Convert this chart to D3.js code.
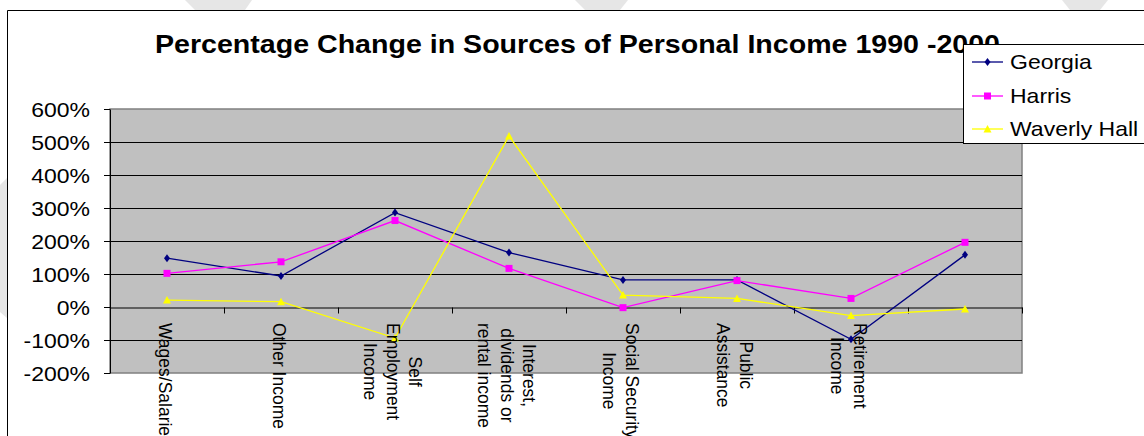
<!DOCTYPE html>
<html>
<head>
<meta charset="utf-8">
<script src="https://cdn.jsdelivr.net/npm/d3@7/dist/d3.min.js"></script>
<style>
  html, body { margin: 0; padding: 0; background: #fff; }
  svg { display: block; }
  text { font-family: "Liberation Sans", Arial, sans-serif; fill: #000; }
</style>
</head>
<body>
<svg id="chart" width="1144" height="436"></svg>
<script>
// Income sources (line breaks mark how each axis label wraps)
const categories = [
  "Wages/Salaries",
  "Other Income",
  "Self\nEmployment\nIncome",
  "Interest,\ndividends or\nrental income",
  "Social Security\nIncome",
  "Public\nAssistance",
  "Retirement\nIncome",
  ""
];

// Percentage change 1990-2000, in percent
const georgia = [148, 94, 286, 165, 82, 82, -98, 158];
const harris  = [102, 137, 262, 117, -2, 80, 26, 196];
const waverly = [21, 16, -94, 518, 36, 26, -26, -6];

const yTicks = [-200, -100, 0, 100, 200, 300, 400, 500, 600];
const titleText = "Percentage Change in Sources of Personal Income 1990 -2000";

const series = [
  { name: "Georgia",      values: georgia, color: "#000080", marker: "diamond" },
  { name: "Harris",       values: harris,  color: "#FF00FF", marker: "square" },
  { name: "Waverly Hall", values: waverly, color: "#FFFF00", marker: "triangle" }
];

const svg = d3.select("#chart");
const plot = { left: 110, right: 1022, top: 109, bottom: 373 };
const stretch = 1.15; // horizontal text stretch used throughout

// faint page decoration showing around the chart frame
const deco = [
  [[185, 0], [252, 0], [245, 10], [195, 10]],
  [[575, 0], [628, 0], [620, 10], [585, 10]],
  [[1062, 0], [1108, 0], [1100, 10], [1070, 10]],
  [[0, 185], [7, 178], [7, 318], [0, 312]]
];
svg.selectAll("polygon.deco").data(deco).join("polygon")
  .attr("class", "deco")
  .attr("points", d => d.map(p => p.join(",")).join(" "))
  .attr("fill", "#e6e6e6");

// chart frame
svg.append("path")
  .attr("d", "M7.5,436 V10.5 H1144")
  .attr("fill", "none").attr("stroke", "#000").attr("stroke-width", 1);

// title
svg.append("text")
  .attr("x", 155).attr("y", 53)
  .attr("font-size", 25).attr("font-weight", "bold")
  .attr("textLength", 845).attr("lengthAdjust", "spacingAndGlyphs")
  .text(titleText);

// scales
const xEdge = d3.scaleLinear().domain([0, categories.length]).range([plot.left, plot.right]);
const x = i => xEdge(i + 0.5);
const y = d3.scaleLinear().domain([-200, 600]).range([plot.bottom, plot.top]);

// plot area
svg.append("rect")
  .attr("x", plot.left).attr("y", plot.top)
  .attr("width", plot.right - plot.left).attr("height", plot.bottom - plot.top)
  .attr("fill", "#C0C0C0").attr("stroke", "#808080").attr("stroke-width", 1.5);

// gridlines
svg.append("g").selectAll("line")
  .data(yTicks.filter(t => t > -200 && t < 600 && t !== 0))
  .join("line")
  .attr("x1", plot.left).attr("x2", plot.right)
  .attr("y1", d => Math.round(y(d)) + 0.5).attr("y2", d => Math.round(y(d)) + 0.5)
  .attr("stroke", "#000").attr("stroke-width", 1);

// y axis
const yAxis = svg.append("g")
  .attr("transform", `translate(${plot.left},0)`)
  .call(d3.axisLeft(y).tickValues(yTicks).tickFormat(d => d + "%").tickSize(6).tickSizeOuter(0));
yAxis.select(".domain").attr("stroke", "#000");
yAxis.selectAll(".tick line").attr("stroke", "#000");
yAxis.selectAll(".tick text")
  .attr("font-family", "Liberation Sans, Arial, sans-serif")
  .attr("font-size", 20).attr("fill", "#000")
  .attr("x", -20 / stretch)
  .attr("dy", "0.35em")
  .attr("transform", `scale(${stretch},1)`);

// x axis along 0%
const xAxis = svg.append("g")
  .attr("transform", `translate(0,${Math.round(y(0)) + 0.5})`)
  .call(d3.axisBottom(xEdge).tickValues(d3.range(categories.length + 1)).tickFormat("").tickSize(6).tickSizeOuter(0));
xAxis.select(".domain").attr("stroke", "#000");
xAxis.selectAll(".tick line").attr("stroke", "#000");

// series lines and markers
const line = d3.line().x((d, i) => x(i)).y(d => y(d));

function markerPath(type, s) {
  const h = s / 2;
  if (type === "diamond") return `M0,${-h - 0.5}L${h - 0.5},0L0,${h + 0.5}L${-h + 0.5},0Z`;
  if (type === "square") return `M${-h},${-h}H${h}V${h}H${-h}Z`;
  return `M0,${-h - 0.5}L${h + 0.5},${h}L${-h - 0.5},${h}Z`;
}

const sg = svg.append("g").selectAll("g").data(series).join("g");
sg.append("path")
  .attr("d", d => line(d.values))
  .attr("fill", "none")
  .attr("stroke", d => d.color)
  .attr("stroke-width", 1.3);
sg.selectAll("path.mk")
  .data(d => d.values.map((v, i) => ({ v, i, s: d })))
  .join("path")
  .attr("class", "mk")
  .attr("transform", d => `translate(${x(d.i)},${y(d.v)})`)
  .attr("d", d => markerPath(d.s.marker, 7))
  .attr("fill", d => d.s.color);

// category labels, rotated, wrapped lines centred in their block
const labelTop = 323, lineH = 21, catSize = 17.5;
const lg = svg.append("g");
categories.forEach((c, i) => {
  const lines = c ? c.split("\n") : [];
  if (!lines.length) return;
  const g = lg.append("g")
    .attr("transform", `translate(${x(i) - 2},${labelTop}) rotate(90) scale(1,1.08)`);
  const texts = lines.map((t, k) => g.append("text")
    .attr("font-size", catSize)
    .attr("dominant-baseline", "central")
    .attr("y", (k - (lines.length - 1) / 2) * lineH)
    .text(t));
  const widths = texts.map(t => t.node().getComputedTextLength());
  const W = d3.max(widths);
  texts.forEach((t, k) => t.attr("x", (W - widths[k]) / 2));
});

// legend
const legend = svg.append("g");
legend.append("rect")
  .attr("x", 963.5).attr("y", 44.5).attr("width", 200).attr("height", 99)
  .attr("fill", "#fff").attr("stroke", "#000").attr("stroke-width", 1);
const rowY = [62, 96, 129];
const li = legend.selectAll("g.item").data(series).join("g")
  .attr("class", "item")
  .attr("transform", (d, i) => `translate(0,${rowY[i]})`);
li.append("line")
  .attr("x1", 972).attr("x2", 1003)
  .attr("stroke", d => d.color).attr("stroke-width", 1.3);
li.append("path")
  .attr("transform", "translate(987.5,0)")
  .attr("d", d => markerPath(d.marker, 7))
  .attr("fill", d => d.color);
li.append("text")
  .attr("transform", `translate(1010,0) scale(${stretch},1)`)
  .attr("font-size", 20)
  .attr("dy", "0.35em")
  .text(d => d.name);
</script>
</body>
</html>
